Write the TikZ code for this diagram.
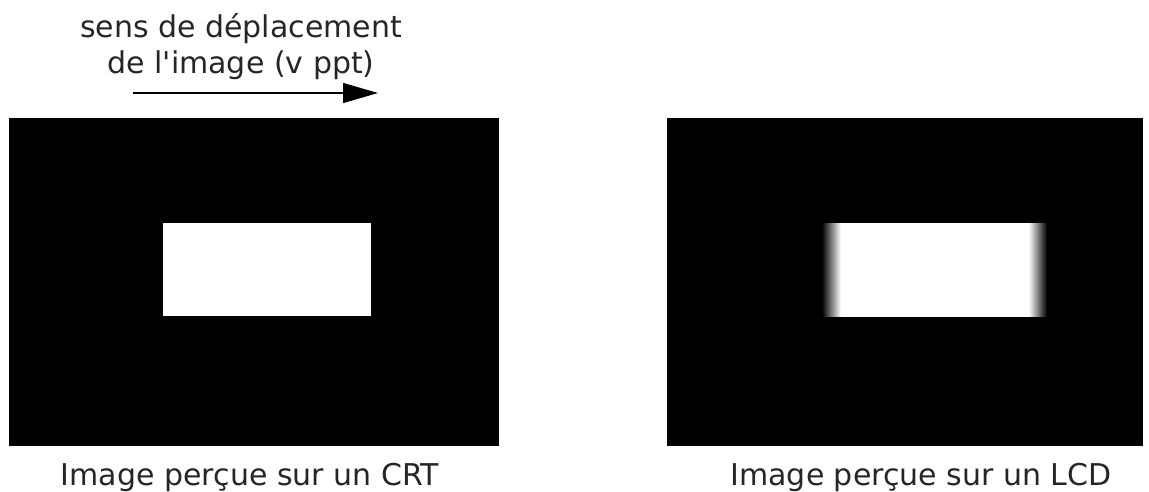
\documentclass[tikz,border=0pt]{standalone}
\usepackage{fontspec}
\newfontfamily\dvsans{DejaVu Sans}
\usetikzlibrary{arrows.meta}
\pgfdeclarehorizontalshading{lcdblur}{100bp}{color(0bp)=(black); color(25bp)=(black); color(29.2bp)=(white); color(70.9bp)=(white); color(75bp)=(black); color(100bp)=(black)}
\begin{document}
\begin{tikzpicture}[x=1pt,y=-1pt,
  lbl/.style={font=\dvsans\fontsize{30}{36}\selectfont,text=black!85,inner sep=0pt,align=center}]
\useasboundingbox (0,0) rectangle (1149,491);
% CRT
\fill[black] (9,118) rectangle (499,446);
\fill[white] (163,223) rectangle (371,316);
% LCD
\fill[black] (667,118) rectangle (1143,446);
\shade[shading=lcdblur] (822,223) rectangle (1047,316);
% labels
\node[lbl,anchor=base] (top) at (241,73) {sens de déplacement\\de l'image (v ppt)};
\node[lbl,anchor=base] (crtl) at (250,485) {Image perçue sur un CRT};
\node[lbl,anchor=base] (lcdl) at (921,485) {Image perçue sur un LCD};
% arrow
\coordinate (as) at (133,93);
\coordinate (ae) at (378,93);
\draw[line width=1.2pt,-{Triangle[length=35pt,width=20pt]}] (as) -- (ae);
\end{tikzpicture}
\end{document}
